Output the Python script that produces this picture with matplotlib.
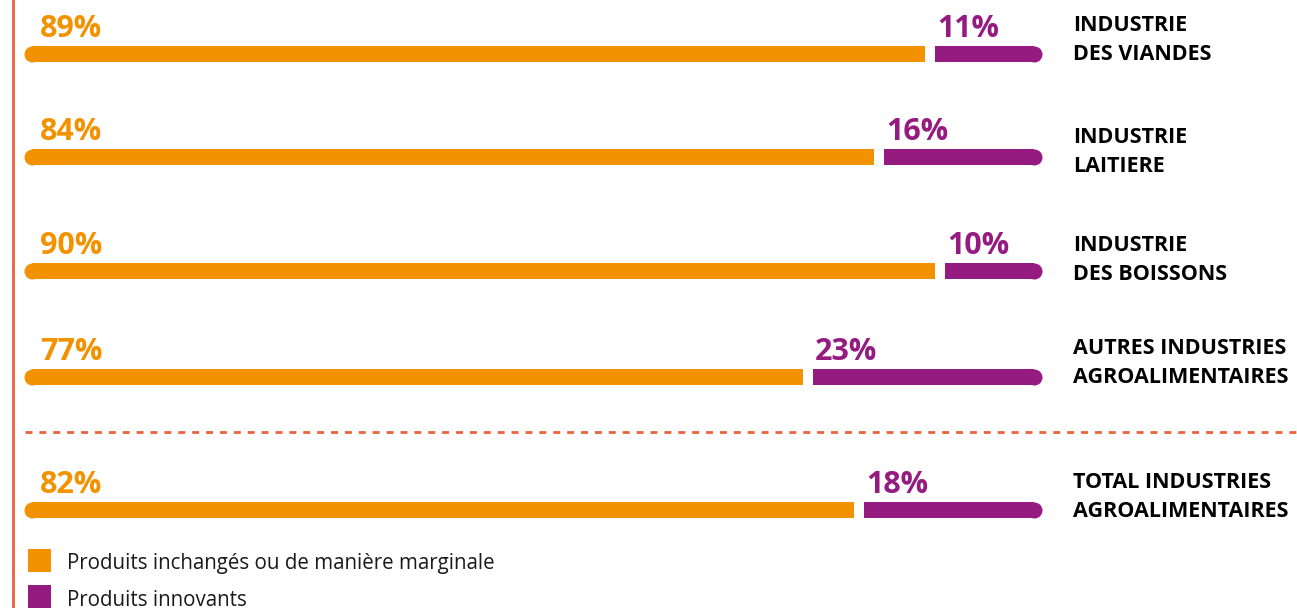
import matplotlib.pyplot as plt

# ── DATA ─────────────────────────────────────────────
categories = [
    "INDUSTRIE\nDES VIANDES",
    "INDUSTRIE\nLAITIERE",
    "INDUSTRIE\nDES BOISSONS",
    "AUTRES INDUSTRIES\nAGROALIMENTAIRES",
    "TOTAL INDUSTRIES\nAGROALIMENTAIRES",
]
inchanges = [89, 84, 90, 77, 82]
innovants = [11, 16, 10, 23, 18]
legend_labels = ["Produits inchangés ou de manière marginale", "Produits innovants"]

# ── STYLE / LAYOUT ───────────────────────────────────
ORANGE = '#F39200'
PURPLE = '#951B81'
LINE = '#E8643C'
W, H = 1297, 608
x0_px, x1_px = 24, 1042             # bar span in pixels
bar_y = [54, 157, 271, 377, 510]     # bar centers (pixel rows)
cat_base = [60, 172, 280, 383, 517]  # baseline of the 2nd label line
bar_h = 16
gap_px = 10

plt.rcParams['font.family'] = ['Open Sans', 'DejaVu Sans']

fig = plt.figure(figsize=(W / 100, H / 100), dpi=100)
ax = fig.add_axes([0, 0, 1, 1])
px = (x1_px - x0_px) / 100.0     # pixels per percent
ax.set_xlim(-x0_px / px, (W - x0_px) / px)
ax.set_ylim(H, 0)
ax.axis('off')

r = (bar_h / 2) / px
g = (gap_px / 2) / px
ms = bar_h * 72 / 100

for y, yb, a, b, cat in zip(bar_y, cat_base, inchanges, innovants, categories):
    split = a
    # orange part, rounded on the left
    ax.barh(y, split - g - r, left=r, height=bar_h, color=ORANGE, lw=0)
    ax.plot([r], [y], 'o', ms=ms, color=ORANGE, mec='none')
    # purple part, rounded on the right
    ax.barh(y, (a + b) - r - (split + g), left=split + g, height=bar_h, color=PURPLE, lw=0)
    ax.plot([a + b - r], [y], 'o', ms=ms, color=PURPLE, mec='none')

    ax.text(16 / px, y - 17, f"{a}%", color=ORANGE, fontsize=22, fontweight='bold',
            ha='left', va='baseline')
    ax.text(split + g + 2 / px, y - 17, f"{b}%", color=PURPLE, fontsize=22, fontweight='bold',
            ha='left', va='baseline')
    ax.text((1073 - x0_px) / px, yb, cat, color='black', fontsize=15.5, fontweight='bold',
            ha='left', va='baseline', linespacing=1.5)

# dotted separator
ax.plot([(25 - x0_px) / px, (W - x0_px) / px], [432, 432], color=LINE, lw=2,
        linestyle=(0, (2.5, 2.5)))

# left vertical rule
ax.plot([(13 - x0_px) / px] * 2, [0, H], color=LINE, lw=2)

# legend
for i, (lab, col) in enumerate(zip(legend_labels, [ORANGE, PURPLE])):
    top = 549 + i * 36
    ax.add_patch(plt.Rectangle(((28 - x0_px) / px, top), 23 / px, 23, color=col, lw=0))
    ax.text((67 - x0_px) / px, 569 + i * 37, lab, color='#1a1a1a', fontsize=14.8,
            ha='left', va='baseline')

fig.savefig('out.png', dpi=100)
